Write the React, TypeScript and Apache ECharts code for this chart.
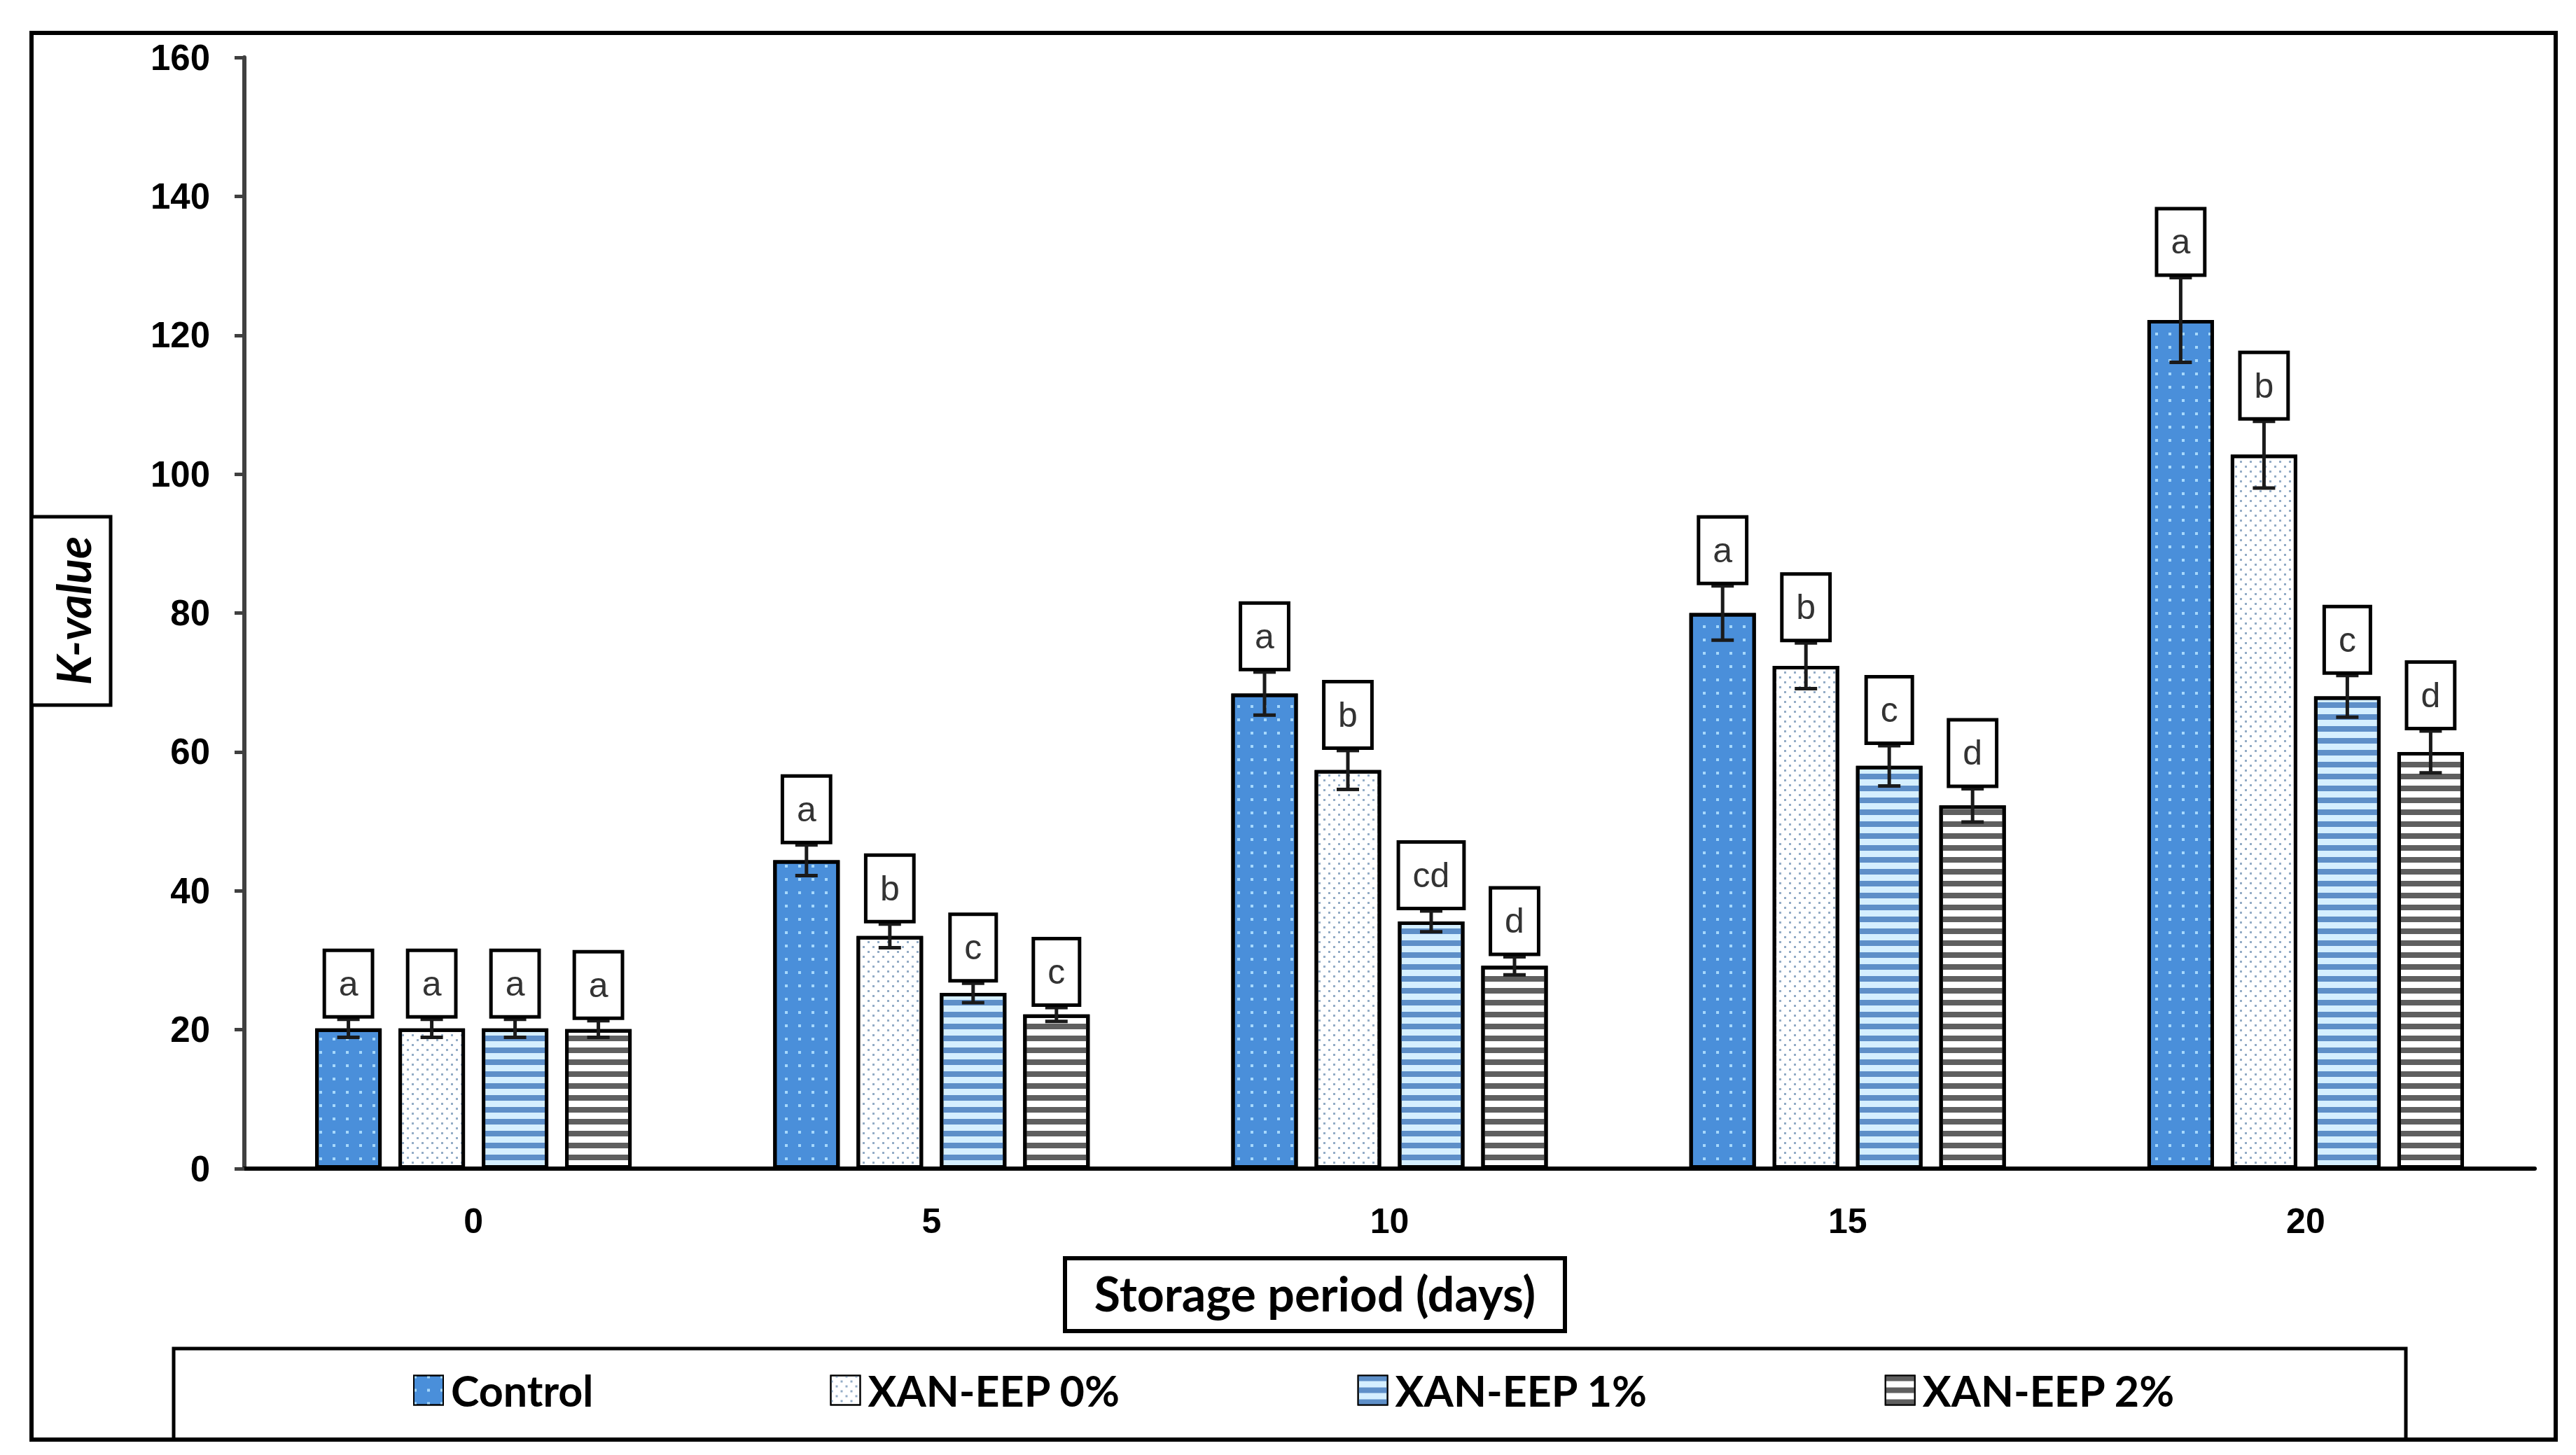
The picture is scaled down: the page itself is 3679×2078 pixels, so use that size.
import React, { useEffect, useRef } from "react";
import * as echarts from "echarts";

const categories = ["0", "5", "10", "15", "20"];
const seriesNames = ["Control", "XAN-EEP 0%", "XAN-EEP 1%", "XAN-EEP 2%"];
const controlValues = [20.2, 44.4, 68.4, 80.0, 122.2];
const xan0Values = [20.2, 33.5, 57.4, 72.4, 102.8];
const xan1Values = [20.2, 25.3, 35.6, 58.0, 68.0];
const xan2Values = [20.1, 22.2, 29.2, 52.3, 60.0];
const controlErr = [1.3, 2.2, 3.1, 3.9, 6.1];
const xan0Err = [1.3, 1.7, 2.8, 3.3, 4.8];
const xan1Err = [1.3, 1.4, 1.5, 2.9, 3.0];
const xan2Err = [1.2, 1.0, 1.3, 2.4, 3.0];
const controlLetters = ["a", "a", "a", "a", "a"];
const xan0Letters = ["a", "b", "b", "b", "b"];
const xan1Letters = ["a", "c", "cd", "c", "c"];
const xan2Letters = ["a", "c", "d", "d", "d"];
const yTicks = { min: 0, max: 160, interval: 20 };

const BAR_W = 95;
const BAR_GAP = 24;

export default function App() {
  const ref = useRef<HTMLDivElement>(null);
  useEffect(() => {
    if (!ref.current) return;
    const chart = echarts.init(ref.current, null, { renderer: "svg" });
    const values = [controlValues, xan0Values, xan1Values, xan2Values];
    const errs = [controlErr, xan0Err, xan1Err, xan2Err];
    const letters = [controlLetters, xan0Letters, xan1Letters, xan2Letters];

    const styles = [
      {
        color: "#4A8FDA",
        decal: { symbol: "rect", symbolSize: 1, color: "#a6d8fb", dashArrayX: [4, 15], dashArrayY: [4, 15] },
      },
      {
        color: "#ffffff",
        decal: {
          symbol: "rect",
          symbolSize: 1,
          color: "#93acc6",
          dashArrayX: [[3, 11], [0, 7, 3, 4]],
          dashArrayY: [3, 4],
        },
      },
      {
        color: "#d5efff",
        decal: { symbol: "rect", symbolSize: 1, color: "#5e8fc8", dashArrayX: [1, 0], dashArrayY: [7.5, 8.5] },
      },
      {
        color: "#ffffff",
        decal: { symbol: "rect", symbolSize: 1, color: "#5f5f5f", dashArrayX: [1, 0], dashArrayY: [7.5, 8.5] },
      },
    ];

    const barSeries = seriesNames.map((name, i) => ({
      name,
      type: "bar",
      data: values[i],
      barWidth: BAR_W,
      barGap: `${(BAR_GAP / BAR_W) * 100}%`,
      itemStyle: { color: styles[i].color, decal: styles[i].decal, borderColor: "#000", borderWidth: 5 },
      z: 2,
    }));

    const errData: number[][] = [];
    for (let s = 0; s < 4; s++) {
      for (let c = 0; c < categories.length; c++) {
        errData.push([c, s, values[s][c], errs[s][c]]);
      }
    }

    const errSeries = {
      type: "custom",
      name: "err",
      z: 5,
      encode: { x: 0, y: 2 },
      data: errData,
      renderItem: (params: any, api: any) => {
        const cat = api.value(0);
        const s = api.value(1);
        const v = api.value(2);
        const e = api.value(3);
        const c = api.coord([cat, v]);
        const x = c[0] + (s - 1.5) * (BAR_W + BAR_GAP);
        const yTop = api.coord([cat, v + e])[1];
        const yBot = api.coord([cat, v - e])[1];
        const ls = { stroke: "#1a1a1a", lineWidth: 5 };
        return {
          type: "group",
          children: [
            { type: "line", shape: { x1: x, y1: yTop, x2: x, y2: yBot }, style: ls },
            { type: "line", shape: { x1: x - 16, y1: yTop, x2: x + 16, y2: yTop }, style: ls },
            { type: "line", shape: { x1: x - 16, y1: yBot, x2: x + 16, y2: yBot }, style: ls },
            {
              type: "text",
              x,
              y: yTop - 6,
              style: {
                text: letters[s][cat],
                fill: "#333333",
                fontSize: 50,
                fontFamily: "Liberation Sans",
                align: "center",
                verticalAlign: "bottom",
                lineHeight: 52,
                backgroundColor: "#ffffff",
                borderColor: "#000000",
                borderWidth: 5,
                padding: [19, 18, 19, 18],
              },
            },
          ],
        };
      },
    };

    const option: any = {
      animation: false,
      backgroundColor: "#ffffff",
      grid: { left: 349, right: 59, top: 82, bottom: 409 },
      legend: {
        data: seriesNames,
        left: 585,
        top: 1950,
        itemWidth: 42,
        itemHeight: 42,
        itemGap: 338,
        icon: "rect",
        textStyle: { fontFamily: "Lato", fontWeight: "bold", fontSize: 61, color: "#000", padding: [0, 0, 0, 6] },
      },
      xAxis: {
        type: "category",
        data: categories,
        axisLine: { lineStyle: { color: "#000", width: 6 } },
        axisTick: { alignWithLabel: true, length: 12, lineStyle: { color: "#000", width: 4 } },
        axisLabel: { fontFamily: "Liberation Sans", fontWeight: "bold", fontSize: 50, color: "#000", margin: 50 },
      },
      yAxis: {
        type: "value",
        min: yTicks.min,
        max: yTicks.max,
        interval: yTicks.interval,
        splitLine: { show: false },
        axisLine: { show: true, lineStyle: { color: "#404040", width: 6 } },
        axisTick: { show: true, length: 14, lineStyle: { color: "#404040", width: 5 } },
        axisLabel: { fontFamily: "Liberation Sans", fontWeight: "bold", fontSize: 51, color: "#000", margin: 49 },
      },
      series: [...barSeries, errSeries],
      graphic: [
        {
          type: "rect",
          shape: { x: 45, y: 47, width: 3605, height: 2009 },
          style: { fill: "none", stroke: "#000", lineWidth: 6 },
          silent: true,
        },
        {
          type: "rect",
          shape: { x: 45, y: 738, width: 113, height: 269 },
          style: { fill: "#fff", stroke: "#000", lineWidth: 5 },
        },
        {
          type: "text",
          x: 104,
          y: 872,
          rotation: Math.PI / 2,
          style: {
            text: "K-value",
            fontFamily: "Lato",
            fontStyle: "italic",
            fontWeight: "bold",
            fontSize: 66,
            fill: "#000",
            align: "center",
            verticalAlign: "middle",
          },
        },
        {
          type: "rect",
          shape: { x: 1521, y: 1797, width: 714, height: 104 },
          style: { fill: "#fff", stroke: "#000", lineWidth: 6 },
        },
        {
          type: "text",
          x: 1878,
          y: 1846,
          style: {
            text: "Storage period (days)",
            fontFamily: "Lato",
            fontWeight: "bold",
            fontSize: 68,
            fill: "#000",
            align: "center",
            verticalAlign: "middle",
          },
        },
        {
          type: "rect",
          shape: { x: 248, y: 1926, width: 3188, height: 130 },
          style: { fill: "none", stroke: "#000", lineWidth: 5 },
          z: -1,
        },
      ],
    };
    chart.setOption(option);
    return () => chart.dispose();
  }, []);
  return (
    <div
      ref={ref}
      style={{ position: "fixed", left: 0, top: 0, width: 3679, height: 2078, background: "#fff" }}
    />
  );
}
